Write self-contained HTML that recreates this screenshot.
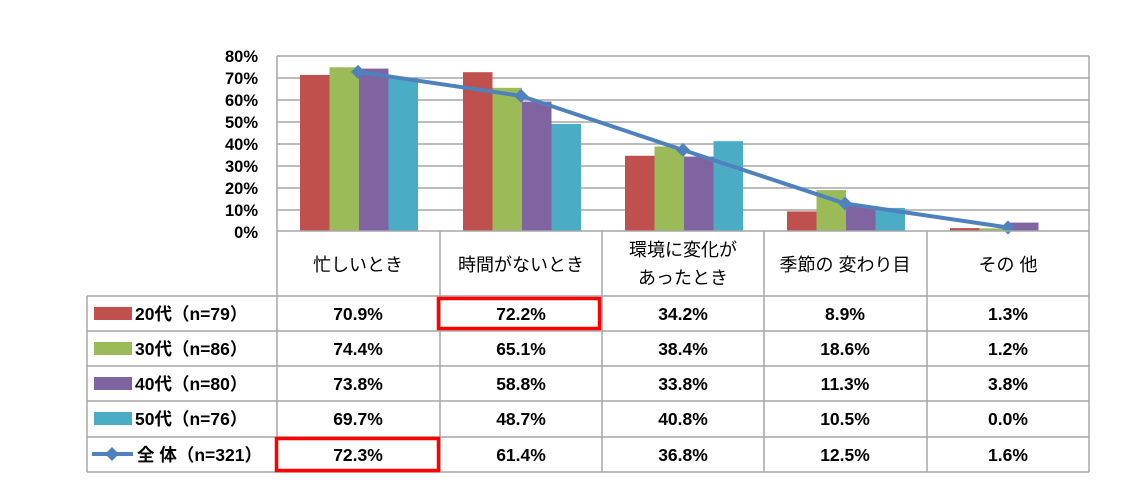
<!DOCTYPE html>
<html><head><meta charset="utf-8"><style>
body{margin:0;background:#fff;width:1137px;height:490px;overflow:hidden}
svg text{font-family:"Liberation Sans","Noto Sans CJK JP",sans-serif}
</style></head><body>
<svg width="1137" height="490" xmlns="http://www.w3.org/2000/svg">
<g stroke="#a6a6a6" stroke-width="1.5">
<line x1="277" y1="56" x2="1089" y2="56"/><line x1="277" y1="78" x2="1089" y2="78"/>
<line x1="277" y1="100" x2="1089" y2="100"/><line x1="277" y1="122" x2="1089" y2="122"/>
<line x1="277" y1="144" x2="1089" y2="144"/><line x1="277" y1="166" x2="1089" y2="166"/>
<line x1="277" y1="188" x2="1089" y2="188"/><line x1="277" y1="210" x2="1089" y2="210"/>
<line x1="1089" y1="56" x2="1089" y2="472"/><line x1="277" y1="56" x2="277" y2="472"/>
</g>
<g>
<rect x="300" y="75" width="29.5" height="156" fill="#C0504D"/>
<rect x="329.5" y="67.3" width="29.5" height="163.7" fill="#9BBB59"/>
<rect x="359" y="68.6" width="29.5" height="162.4" fill="#8064A2"/>
<rect x="388.5" y="77.7" width="29.5" height="153.3" fill="#4BACC6"/>
<rect x="463" y="72.2" width="29.5" height="158.8" fill="#C0504D"/>
<rect x="492.5" y="87.8" width="29.5" height="143.2" fill="#9BBB59"/>
<rect x="522" y="101.6" width="29.5" height="129.4" fill="#8064A2"/>
<rect x="551.5" y="123.9" width="29.5" height="107.1" fill="#4BACC6"/>
<rect x="625" y="155.8" width="29.5" height="75.2" fill="#C0504D"/>
<rect x="654.5" y="146.5" width="29.5" height="84.5" fill="#9BBB59"/>
<rect x="684" y="156.6" width="29.5" height="74.4" fill="#8064A2"/>
<rect x="713.5" y="141.2" width="29.5" height="89.8" fill="#4BACC6"/>
<rect x="787" y="211.4" width="29.5" height="19.6" fill="#C0504D"/>
<rect x="816.5" y="190.1" width="29.5" height="40.9" fill="#9BBB59"/>
<rect x="846" y="206.1" width="29.5" height="24.9" fill="#8064A2"/>
<rect x="875.5" y="207.9" width="29.5" height="23.1" fill="#4BACC6"/>
<rect x="950" y="228.1" width="29.5" height="2.9" fill="#C0504D"/>
<rect x="979.5" y="228.4" width="29.5" height="2.6" fill="#9BBB59"/>
<rect x="1009" y="222.6" width="29.5" height="8.4" fill="#8064A2"/>
</g>
<polyline points="358,71.9 521,95.9 683,150 845,203.5 1008,227.5" fill="none" stroke="#4F81BD" stroke-width="4"/>
<g fill="#4F81BD">
<polygon points="358,64.9 365,71.9 358,78.9 351,71.9"/>
<polygon points="521,88.9 528,95.9 521,102.9 514,95.9"/>
<polygon points="683,143 690,150 683,157 676,150"/>
<polygon points="845,196.5 852,203.5 845,210.5 838,203.5"/>
<polygon points="1008,220.5 1015,227.5 1008,234.5 1001,227.5"/>
</g>
<g font-size="16.5" font-weight="bold" text-anchor="end" fill="#000">
<text x="258" y="62">80%</text><text x="258" y="84">70%</text><text x="258" y="106">60%</text>
<text x="258" y="128">50%</text><text x="258" y="150">40%</text><text x="258" y="172">30%</text>
<text x="258" y="194">20%</text><text x="258" y="216">10%</text><text x="258" y="238">0%</text>
</g>
<g stroke="#a6a6a6" stroke-width="1.5">
<line x1="277" y1="231" x2="1089" y2="231"/>
<line x1="87" y1="296" x2="1089" y2="296"/><line x1="87" y1="331" x2="1089" y2="331"/>
<line x1="87" y1="366" x2="1089" y2="366"/><line x1="87" y1="401" x2="1089" y2="401"/>
<line x1="87" y1="437" x2="1089" y2="437"/><line x1="87" y1="472" x2="1089" y2="472"/>
<line x1="87" y1="296" x2="87" y2="472"/>
<line x1="440" y1="231" x2="440" y2="472"/><line x1="602" y1="231" x2="602" y2="472"/>
<line x1="764" y1="231" x2="764" y2="472"/><line x1="927" y1="231" x2="927" y2="472"/>
</g>
<g font-size="18" text-anchor="middle" fill="#000">
<text x="358" y="271">忙しいとき</text>
<text x="521" y="271">時間がないとき</text>
<text x="683" y="256">環境に変化が</text>
<text x="683" y="284">あったとき</text>
<text x="845" y="271">季節の 変わり目</text>
<text x="1008" y="271">その 他</text>
</g>
<rect x="94" y="307" width="38" height="13" fill="#C0504D"/>
<rect x="94" y="342" width="38" height="13" fill="#9BBB59"/>
<rect x="94" y="377" width="38" height="13" fill="#8064A2"/>
<rect x="94" y="412" width="38" height="13" fill="#4BACC6"/>
<line x1="92" y1="454" x2="133" y2="454" stroke="#4F81BD" stroke-width="4"/>
<polygon points="112,447 119,454 112,461 105,454" fill="#4F81BD"/>
<g font-size="17.5" font-weight="bold" fill="#000">
<text x="135" y="320">20代（n=79）</text>
<text x="135" y="355">30代（n=86）</text>
<text x="135" y="390">40代（n=80）</text>
<text x="135" y="425">50代（n=76）</text>
<text x="137" y="461">全 体（n=321）</text>
</g>
<g font-size="17.5" font-weight="bold" text-anchor="middle" fill="#000">
<text x="358" y="320">70.9%</text><text x="521" y="320">72.2%</text><text x="683" y="320">34.2%</text><text x="845" y="320">8.9%</text><text x="1008" y="320">1.3%</text>
<text x="358" y="355">74.4%</text><text x="521" y="355">65.1%</text><text x="683" y="355">38.4%</text><text x="845" y="355">18.6%</text><text x="1008" y="355">1.2%</text>
<text x="358" y="390">73.8%</text><text x="521" y="390">58.8%</text><text x="683" y="390">33.8%</text><text x="845" y="390">11.3%</text><text x="1008" y="390">3.8%</text>
<text x="358" y="425">69.7%</text><text x="521" y="425">48.7%</text><text x="683" y="425">40.8%</text><text x="845" y="425">10.5%</text><text x="1008" y="425">0.0%</text>
<text x="358" y="461">72.3%</text><text x="521" y="461">61.4%</text><text x="683" y="461">36.8%</text><text x="845" y="461">12.5%</text><text x="1008" y="461">1.6%</text>
</g>
<rect x="438.5" y="298.5" width="161" height="30" fill="none" stroke="#f00" stroke-width="3.5"/>
<rect x="276.5" y="438.5" width="162" height="32" fill="none" stroke="#f00" stroke-width="3.5"/>
</svg>
</body></html>
